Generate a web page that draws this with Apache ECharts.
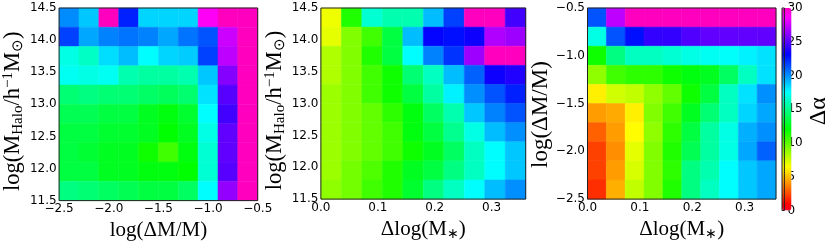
<!DOCTYPE html>
<html><head><meta charset="utf-8">
<script src="https://cdn.jsdelivr.net/npm/echarts@6/dist/echarts.min.js"></script>
<style>html,body{margin:0;padding:0;background:#fff}#c{width:830px;height:246px}</style>
</head><body><div id="c"></div>
<script>
// ---- bin edges ----
const dmEdges = [-2.5, -2.3, -2.1, -1.9, -1.7, -1.5, -1.3, -1.1, -0.9, -0.7, -0.5];
const haloEdges = [11.5, 11.8, 12.1, 12.4, 12.7, 13.0, 13.3, 13.6, 13.9, 14.2, 14.5];
const mstarEdges = [0, 0.036, 0.072, 0.108, 0.144, 0.18, 0.216, 0.252, 0.288, 0.324, 0.36];

// ---- tick labels ----
const dmTickLabels = ['−2.5', '−2.0', '−1.5', '−1.0', '−0.5'];
const haloTickLabels = ['11.5', '12.0', '12.5', '13.0', '13.5', '14.0', '14.5'];
const mstarTickLabels = ['0.0', '0.1', '0.2', '0.3'];
const cbarTickLabels = ['0', '5', '10', '15', '20', '25', '30'];

// ---- values (Δα), rows listed top (high y) to bottom (low y) ----
const panel1Values = [
  [20.1, 18.8, 30.0, 22.4, 18.5, 18.5, 18.5, 28.8, 30.0, 30.0],
  [21.7, 19.5, 20.3, 20.6, 20.3, 19.5, 20.6, 21.3, 27.5, 30.0],
  [17.0, 16.3, 18.3, 19.0, 17.6, 18.5, 18.7, 21.7, 27.2, 30.0],
  [17.3, 17.0, 17.3, 15.8, 15.5, 15.5, 15.8, 18.8, 26.0, 30.0],
  [14.5, 14.8, 14.5, 14.5, 14.2, 14.0, 14.4, 18.2, 25.0, 30.0],
  [13.8, 13.8, 13.4, 13.4, 12.7, 12.3, 13.0, 17.6, 24.5, 30.0],
  [13.4, 13.4, 13.0, 13.0, 12.7, 12.0, 12.7, 17.0, 25.2, 30.0],
  [13.4, 13.1, 12.7, 12.7, 11.7, 10.6, 12.3, 16.6, 25.2, 30.0],
  [13.4, 13.4, 12.7, 12.7, 12.3, 12.3, 12.0, 16.6, 25.0, 30.0],
  [14.8, 14.5, 14.1, 13.8, 13.4, 13.4, 14.1, 17.6, 26.3, 30.0]
];
const panel2Values = [
  [6.8, 11.3, 16.6, 15.8, 15.8, 19.0, 21.7, 30.0, 30.0, 24.5],
  [7.0, 9.2, 10.6, 13.4, 19.0, 23.1, 22.8, 23.4, 26.9, 26.5],
  [8.2, 9.2, 11.3, 13.4, 17.6, 20.3, 22.0, 26.5, 30.0, 30.0],
  [8.2, 9.2, 10.6, 11.7, 14.5, 16.2, 19.0, 21.0, 23.4, 23.8],
  [8.6, 9.2, 10.6, 11.7, 13.4, 15.5, 17.9, 20.0, 21.3, 22.4],
  [8.6, 9.2, 9.9, 11.0, 12.3, 14.1, 15.8, 18.8, 20.3, 21.3],
  [8.6, 9.2, 9.9, 10.6, 12.3, 13.4, 15.1, 17.0, 19.0, 20.0],
  [8.6, 9.2, 9.9, 10.6, 11.7, 12.7, 14.1, 16.2, 17.6, 18.8],
  [8.6, 9.5, 10.3, 11.3, 12.7, 13.4, 14.8, 16.2, 17.6, 18.8],
  [8.9, 9.5, 10.6, 11.3, 13.0, 14.8, 16.2, 17.6, 19.0, 20.0]
];
const panel3Values = [
  [21.3, 27.2, 30.0, 30.0, 30.0, 30.0, 30.0, 30.0, 30.0, 30.0],
  [17.0, 21.3, 22.8, 24.2, 24.2, 24.8, 25.2, 25.2, 25.2, 25.2],
  [11.7, 14.8, 16.2, 16.2, 16.6, 17.0, 17.3, 17.5, 17.9, 18.2],
  [8.9, 10.6, 11.0, 11.0, 11.7, 12.3, 12.7, 14.1, 16.2, 18.2],
  [6.1, 7.5, 7.8, 8.9, 9.9, 11.7, 13.4, 16.2, 18.2, 20.0],
  [4.3, 4.6, 6.1, 9.2, 10.6, 12.7, 14.5, 16.2, 18.5, 19.5],
  [3.0, 4.3, 6.4, 8.9, 11.0, 13.4, 15.5, 17.0, 19.3, 20.0],
  [2.3, 4.0, 7.0, 9.2, 11.3, 13.8, 15.5, 17.0, 19.5, 21.0],
  [2.3, 4.3, 7.3, 9.2, 11.0, 14.8, 15.8, 17.6, 18.8, 19.5],
  [1.9, 4.7, 7.8, 9.2, 11.3, 14.8, 16.2, 17.6, 18.8, 19.5]
];

// ---- colormap (gist_rainbow) ----
const gistStops = [
  [0.000, [255, 0, 41]], [0.030, [255, 0, 0]], [0.215, [255, 255, 0]],
  [0.400, [0, 255, 0]], [0.586, [0, 255, 255]], [0.770, [0, 0, 255]],
  [0.954, [255, 0, 255]], [1.000, [255, 0, 191]]
];
function gist(t) {
  for (let i = 1; i < gistStops.length; i++) {
    if (t <= gistStops[i][0]) {
      const a = gistStops[i - 1], b = gistStops[i];
      const f = (t - a[0]) / (b[0] - a[0]);
      const c = a[1].map((v, k) => Math.round(v + (b[1][k] - v) * f));
      return 'rgb(' + c.join(',') + ')';
    }
  }
  return 'rgb(255,0,191)';
}
const cmap = [];
for (let i = 0; i <= 150; i++) cmap.push(gist(i / 150));

function cells(xe, ye, vals) {
  const out = [];
  const n = vals.length;
  for (let r = 0; r < n; r++) {
    const yi = n - 1 - r;
    for (let c = 0; c < vals[r].length; c++) {
      out.push([xe[c], xe[c + 1], ye[yi], ye[yi + 1], vals[r][c]]);
    }
  }
  return out;
}

function renderCell(params, api) {
  const p0 = api.coord([api.value(0), api.value(3)]);
  const p1 = api.coord([api.value(1), api.value(2)]);
  const col = api.visual('color');
  return {
    type: 'rect',
    shape: { x: p0[0], y: p0[1], width: p1[0] - p0[0], height: p1[1] - p0[1] },
    style: { fill: col, stroke: col, lineWidth: 0.5 }
  };
}

function lab(labels, min, step) {
  return function (v) {
    const i = Math.round((v - min) / step);
    return labels[i] !== undefined ? labels[i] : '';
  };
}

const tickFont = { fontFamily: 'DejaVu Sans', fontSize: 12, color: '#000' };
const serif = 'Liberation Serif';
const richHalo = {
  m: { fontFamily: serif, fontSize: 22.5, lineHeight: 25, color: '#000', verticalAlign: 'middle' },
  sub: { fontFamily: serif, fontSize: 15, lineHeight: 15, color: '#000', verticalAlign: 'bottom' },
  sup: { fontFamily: serif, fontSize: 15, lineHeight: 15, color: '#000', verticalAlign: 'top' }
};
const richDmY = {
  m: { fontFamily: serif, fontSize: 23, lineHeight: 26, color: '#000', verticalAlign: 'middle' }
};
const richX = {
  m: { fontFamily: serif, fontSize: 21, lineHeight: 24, color: '#000', verticalAlign: 'middle' },
  sub: { fontFamily: serif, fontSize: 14, lineHeight: 14, color: '#000', verticalAlign: 'bottom' }
};
const haloName = '{m|log(M}{sub|Halo}{m|/h}{sup|−1}{m|M}{sub|⊙}{m|)}';
const dmNameY = '{m|log(ΔM/M)}';
const dmNameX = '{m|log(ΔM/M)}';
const mstarName = '{m|Δlog(M}{sub|∗}{m|)}';

const gridBase = { show: true, borderColor: '#222', borderWidth: 1, backgroundColor: 'transparent', z: 10 };
const grids = [
  Object.assign({ left: 50.7, top: 8, width: 207, height: 202.5 }, gridBase),
  Object.assign({ left: 320.9, top: 8, width: 204.8, height: 202.5 }, gridBase),
  Object.assign({ left: 587.5, top: 8, width: 188.5, height: 202.5 }, gridBase),
  Object.assign({ left: 782, top: 8, width: 9.5, height: 202.5 }, gridBase)
];

function xAx(gi, min, max, step, labels, name, showMax) {
  return {
    gridIndex: gi, type: 'value', min: min, max: max, interval: step,
    axisLine: { show: false }, axisTick: { show: false }, splitLine: { show: false },
    axisLabel: Object.assign({ margin: 2.5, showMaxLabel: showMax, formatter: lab(labels, min, step) }, tickFont),
    name: name, nameLocation: 'middle', nameGap: 17,
    nameTextStyle: { rich: richX }
  };
}
function yAx(gi, min, max, step, labels, name, rich, gap, shift) {
  return {
    gridIndex: gi, type: 'value', min: min, max: max, interval: step,
    axisLine: { show: false }, axisTick: { show: false }, splitLine: { show: false },
    axisLabel: Object.assign({ margin: 2.5, formatter: lab(labels, min, step) }, tickFont),
    name: name, nameLocation: 'middle', nameGap: gap,
    nameTextStyle: { rich: rich, padding: [0, shift, 0, 0] }
  };
}

const option = {
  animation: false,
  backgroundColor: '#fff',
  grid: grids,
  xAxis: [
    xAx(0, -2.5, -0.5, 0.5, dmTickLabels, dmNameX, true),
    xAx(1, 0, 0.36, 0.1, mstarTickLabels, mstarName, false),
    xAx(2, 0, 0.36, 0.1, mstarTickLabels, mstarName, false),
    { gridIndex: 3, type: 'value', min: 0, max: 1, show: false }
  ],
  yAxis: [
    yAx(0, 11.5, 14.5, 0.5, haloTickLabels, haloName, richHalo, 23, 14),
    yAx(1, 11.5, 14.5, 0.5, haloTickLabels, haloName, richHalo, 23, 14),
    yAx(2, -2.5, -0.5, 0.5, dmTickLabels, dmNameY, richDmY, 29, 22),
    {
      gridIndex: 3, type: 'value', position: 'right', min: 0, max: 30, interval: 5,
      axisLine: { show: false }, axisTick: { show: false }, splitLine: { show: false },
      axisLabel: Object.assign({ margin: 3, formatter: lab(cbarTickLabels, 0, 5) }, tickFont),
      name: '{m|Δα}', nameLocation: 'middle', nameGap: 20,
      nameTextStyle: { rich: { m: { fontFamily: serif, fontSize: 24, color: '#000' } }, padding: [0, 4, 0, 0] }
    }
  ],
  visualMap: {
    type: 'continuous', min: 0, max: 30, dimension: 4, seriesIndex: [0, 1, 2],
    calculable: false, show: true, orient: 'vertical', left: 782, top: 8,
    itemWidth: 9.5, itemHeight: 202.5, padding: 0, text: null, hoverLink: false,
    inRange: { color: cmap }
  },
  series: [
    { type: 'custom', xAxisIndex: 0, yAxisIndex: 0, renderItem: renderCell, encode: { x: [0, 1], y: [2, 3] }, data: cells(dmEdges, haloEdges, panel1Values) },
    { type: 'custom', xAxisIndex: 1, yAxisIndex: 1, renderItem: renderCell, encode: { x: [0, 1], y: [2, 3] }, data: cells(mstarEdges, haloEdges, panel2Values) },
    { type: 'custom', xAxisIndex: 2, yAxisIndex: 2, renderItem: renderCell, encode: { x: [0, 1], y: [2, 3] }, data: cells(mstarEdges, dmEdges, panel3Values) }
  ]
};
echarts.init(document.getElementById('c'), null, { renderer: 'canvas' }).setOption(option);
</script>
</body></html>
